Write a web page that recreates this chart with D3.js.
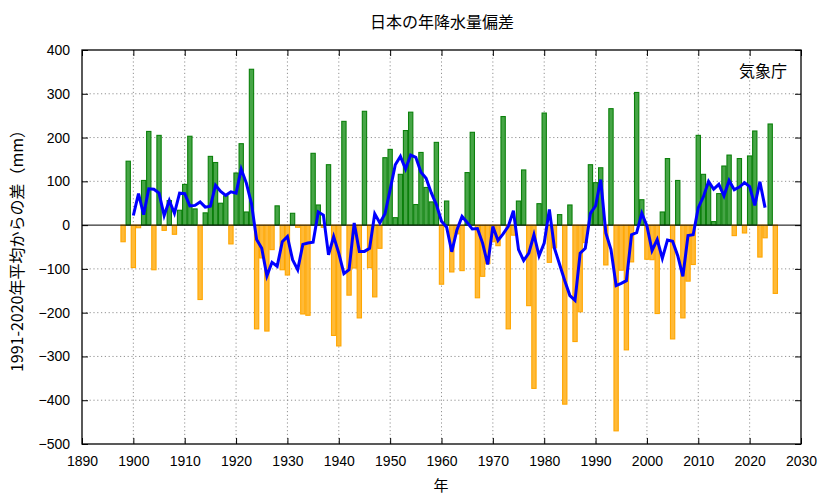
<!DOCTYPE html>
<html><head><meta charset="utf-8">
<script src="https://cdn.jsdelivr.net/npm/d3@7"></script>
<style>
html,body{margin:0;padding:0;background:#fff;}
text{font-family:"Liberation Sans","Noto Sans CJK JP",sans-serif;}
.jp{font-family:"Noto Sans CJK JP",sans-serif;}
</style></head>
<body><svg id="c" width="833" height="498"></svg>
<script>
const firstYear = 1898;
const anomalies = [
 -38,146,-97,-6,102,214,-102,205,-12,56,      // 1898-1907
 -21,34,93,203,37,-170,28,157,143,50,        // 1908-1917
 67,-43,119,186,30,356,-237,-75,-242,-56,    // 1918-1927
 44,-102,-114,27,-5,-203,-206,164,46,-5,     // 1928-1937
 138,-252,-276,237,-160,-98,-212,260,-97,-164, // 1938-1947
 -53,154,173,17,116,216,258,47,166,86,       // 1948-1957
 53,189,-135,55,-107,-20,-104,120,212,-166,  // 1958-1967
 -117,-88,-38,-47,248,-237,-23,55,126,-184,  // 1968-1977
 -373,49,256,-85,-52,24,-409,46,-266,-198,   // 1978-1987
 -40,138,97,131,-91,266,-470,-103,-285,-84,  // 1988-1997
 303,58,-78,-79,-202,30,152,-260,102,-212,   // 1998-2007
 -128,-90,205,116,90,8,72,135,160,-24,       // 2008-2017
 152,-18,158,215,-73,-29,231,-156            // 2018-2025
];
const smoothFirstYear = 1900;
const smoothed = [
 22,72,24,83,82,73,22,56,27,73,              // 1900-1909
 72,44,45,53,41,43,91,77,68,76,              // 1910-1919
 73,128,96,49,-33,-53,-116,-85,-94,-38,      // 1920-1929
 -26,-79,-102,-44,-41,-39,30,23,-68,-26,     // 1930-1939
 -64,-111,-102,5,-60,-60,-53,26,5,26,        // 1940-1949
 81,138,157,128,160,155,121,107,74,47,       // 1950-1959
 9,-5,-61,-11,20,6,-9,-8,-41,-90,            // 1960-1969
 -3,-35,-20,-3,33,-56,-81,-64,-22,-70,       // 1970-1979
 -41,36,-53,-90,-127,-161,-172,-64,-53,27,   // 1980-1989
 44,104,-18,-56,-138,-133,-127,-22,-17,27,   // 1990-1999
 -2,-58,-33,-76,-34,-37,-70,-117,-24,-22,    // 2000-2009
 40,65,100,82,93,67,102,81,87,97,            // 2010-2019
 88,45,99,40                                 // 2020-2023
];
const xTicks = [1890,1900,1910,1920,1930,1940,1950,1960,1970,1980,1990,2000,2010,2020,2030];
const yTicks = [-500,-400,-300,-200,-100,0,100,200,300,400];
const titleText = "日本の年降水量偏差";
const yLabel = "1991-2020年平均からの差（mm）";
const xLabel = "年";
const sourceText = "気象庁";

const bars = anomalies.map((v,i)=>({year:firstYear+i, value:v}));
const line = smoothed.map((v,i)=>({year:smoothFirstYear+i, value:v}));

const L=82, R=801, T=50, B=444;
const svg = d3.select("#c");
const x = d3.scaleLinear().domain([1890,2030]).range([L,R]);
const y = d3.scaleLinear().domain([-500,400]).range([B,T]);

// grid
const grid = svg.append("g");
grid.selectAll("line.gx").data(xTicks.slice(1,-1)).join("line")
  .attr("x1",d=>x(d)).attr("x2",d=>x(d)).attr("y1",T).attr("y2",B)
  .attr("stroke","#777").attr("stroke-width",0.8).attr("stroke-dasharray","1.2,2.6");
grid.selectAll("line.gy").data(yTicks.filter(d=>d!==0 && d!==-500 && d!==400)).join("line")
  .attr("x1",L).attr("x2",R).attr("y1",d=>y(d)).attr("y2",d=>y(d))
  .attr("stroke","#777").attr("stroke-width",0.8).attr("stroke-dasharray","1.2,2.6");

// bars
const bw = 4.3;
svg.append("g").selectAll("rect").data(bars).join("rect")
  .attr("x",d=>x(d.year)-bw/2)
  .attr("width",bw)
  .attr("y",d=>y(Math.max(0,d.value)))
  .attr("height",d=>Math.abs(y(d.value)-y(0)))
  .attr("fill",d=>d.value>=0?"#46a546":"#ffba38")
  .attr("stroke",d=>d.value>=0?"#0b800b":"#ffa600")
  .attr("stroke-width",1.1);

// zero line
svg.append("line").attr("x1",L).attr("x2",R).attr("y1",y(0)).attr("y2",y(0))
  .attr("stroke","#000").attr("stroke-width",1);

// smoothed line
svg.append("path").datum(line)
  .attr("d",d3.line().x(d=>x(d.year)).y(d=>y(d.value)))
  .attr("fill","none").attr("stroke","#0000ff").attr("stroke-width",3).attr("stroke-linejoin","miter");

// axes (gnuplot-like inward ticks, mirrored)
const tk = 6;
const axisG = svg.append("g");
axisG.append("g").attr("transform",`translate(0,${B})`)
  .call(d3.axisBottom(x).tickValues(xTicks).tickFormat(d3.format("d")).tickSizeInner(-tk).tickSizeOuter(0).tickPadding(12));
axisG.append("g").attr("transform",`translate(0,${T})`)
  .call(d3.axisTop(x).tickValues(xTicks).tickFormat("").tickSizeInner(-tk).tickSizeOuter(0));
axisG.append("g").attr("transform",`translate(${L},0)`)
  .call(d3.axisLeft(y).tickValues(yTicks).tickFormat(d3.format("d")).tickSizeInner(-tk).tickSizeOuter(0).tickPadding(12));
axisG.append("g").attr("transform",`translate(${R},0)`)
  .call(d3.axisRight(y).tickValues(yTicks).tickFormat("").tickSizeInner(-tk).tickSizeOuter(0));
axisG.selectAll(".domain").remove();
axisG.selectAll(".tick line").attr("stroke","#000").attr("stroke-width",1);
axisG.selectAll(".tick text").attr("font-size",14).attr("fill","#000")
  .attr("font-family",'"Liberation Sans",sans-serif');

// frame
svg.append("rect").attr("x",L).attr("y",T).attr("width",R-L).attr("height",B-T)
  .attr("fill","none").attr("stroke","#000").attr("stroke-width",1.3);

// texts
svg.append("text").attr("class","jp").attr("x",442).attr("y",28).attr("text-anchor","middle")
  .attr("font-size",16).text(titleText);
svg.append("text").attr("class","jp").attr("x",441).attr("y",491).attr("text-anchor","middle")
  .attr("font-size",15).text(xLabel);
svg.append("text").attr("class","jp").attr("x",787).attr("y",77).attr("text-anchor","end")
  .attr("font-size",16).text(sourceText);
svg.append("text").attr("class","jp")
  .attr("transform",`translate(23,${(T+B)/2}) rotate(-90)`).attr("text-anchor","middle")
  .attr("font-size",16).text(yLabel);
</script></body></html>
